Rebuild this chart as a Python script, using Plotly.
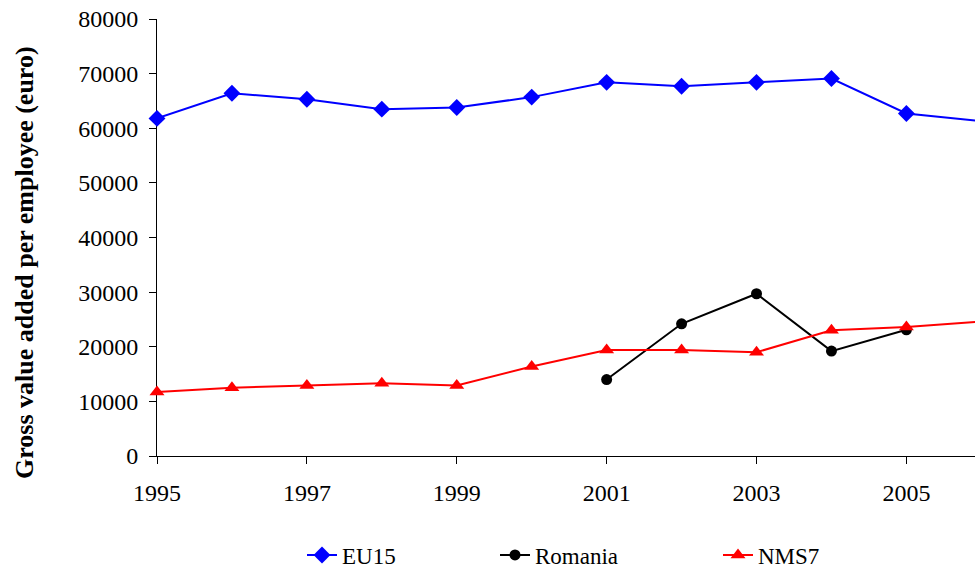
import plotly.graph_objects as go

# Gross value added per employee (euro), 1995-2006
years = [1995, 1996, 1997, 1998, 1999, 2000, 2001, 2002, 2003, 2004, 2005, 2006]
eu15 = [61800, 66400, 65300, 63500, 63800, 65700, 68400, 67700, 68400, 69100, 62700, 61300]

romania_years = [2001, 2002, 2003, 2004, 2005]
romania = [14000, 24200, 29700, 19200, 23100]

nms7 = [11700, 12500, 12900, 13300, 12900, 16400, 19400, 19400, 19000, 23000, 23600, 24600]

x_ticks = [1995, 1997, 1999, 2001, 2003, 2005]
y_ticks = [0, 10000, 20000, 30000, 40000, 50000, 60000, 70000, 80000]

FONT = "Liberation Serif"
W, H = 975, 570
ML, MT, MB = 157, 19, 114
plot_w = W - ML
plot_h = H - MT - MB
px_per_year = 74.94

fig = go.Figure()

fig.add_trace(go.Scatter(
    x=years, y=eu15, name="EU15", mode="lines+markers",
    line=dict(color="#0000FF", width=2),
    marker=dict(symbol="diamond", size=13, color="#0000FF"),
    cliponaxis=False, legend="legend",
))
fig.add_trace(go.Scatter(
    x=romania_years, y=romania, name="Romania", mode="lines+markers",
    line=dict(color="#000000", width=2),
    marker=dict(symbol="circle", size=11, color="#000000"),
    cliponaxis=False, legend="legend2",
))
fig.add_trace(go.Scatter(
    x=years, y=nms7, name="NMS7", mode="lines+markers",
    line=dict(color="#FF0000", width=2),
    marker=dict(symbol="triangle-up", size=13, color="#FF0000"),
    cliponaxis=False, legend="legend3",
))

def paper_x(px):
    return (px - ML) / plot_w

def paper_y(py):
    return (H - MB - py) / plot_h

legend_common = dict(
    orientation="h", xanchor="left", yanchor="middle",
    font=dict(family=FONT, size=23, color="black"),
    bgcolor="rgba(0,0,0,0)",
)

fig.update_layout(
    width=W, height=H,
    margin=dict(l=ML, r=0, t=MT, b=MB, pad=0, autoexpand=False),
    paper_bgcolor="white", plot_bgcolor="white",
    font=dict(family=FONT, size=24, color="black"),
    showlegend=True,
    legend=dict(x=paper_x(302), y=paper_y(555), **legend_common),
    legend2=dict(x=paper_x(495), y=paper_y(555), **legend_common),
    legend3=dict(x=paper_x(718), y=paper_y(555), **legend_common),
    xaxis=dict(
        range=[1995, 1995 + plot_w / px_per_year],
        tickmode="array", tickvals=x_ticks, ticktext=[str(v) for v in x_ticks],
        ticks="outside", ticklen=7, tickwidth=1, tickcolor="black",
        showline=True, linecolor="black", linewidth=1,
        showgrid=False, zeroline=False, layer="below traces",
        tickfont=dict(family=FONT, size=24, color="black"),
        ticklabelstandoff=8,
    ),
    yaxis=dict(
        range=[0, 80000],
        tickmode="array", tickvals=y_ticks, ticktext=[str(v) for v in y_ticks],
        ticks="outside", ticklen=7, tickwidth=1, tickcolor="black",
        showline=True, linecolor="black", linewidth=1,
        showgrid=False, zeroline=False, layer="below traces",
        tickfont=dict(family=FONT, size=24, color="black"),
        ticklabelstandoff=6,
    ),
    annotations=[dict(
        text="<b>Gross value added per employee (euro)</b>",
        xref="paper", yref="paper",
        x=paper_x(24), y=paper_y(263),
        xanchor="center", yanchor="middle",
        textangle=-90, showarrow=False,
        font=dict(family=FONT, size=26, color="black"),
    )],
)

fig.write_html("out.html")
